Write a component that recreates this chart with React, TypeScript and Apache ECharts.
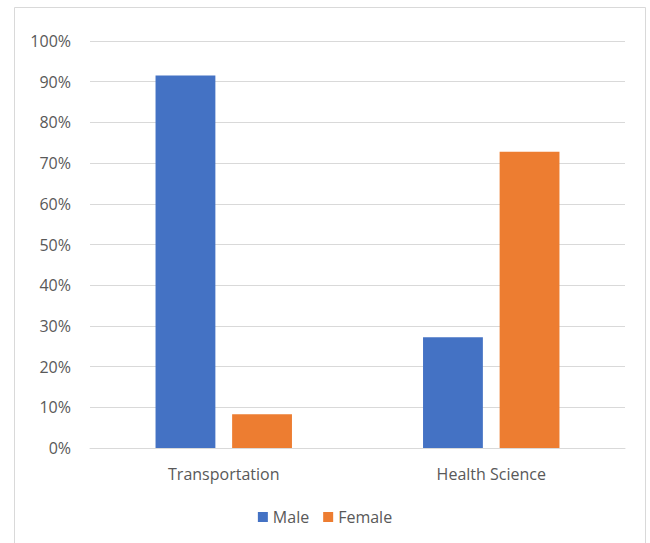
import React, { useEffect, useRef } from "react";
import * as echarts from "echarts";

const categories = ["Transportation", "Health Science"];
const maleValues = [91.5, 27.2];
const femaleValues = [8.3, 72.8];
const seriesNames = ["Male", "Female"];

export default function App() {
  const ref = useRef<HTMLDivElement>(null);
  useEffect(() => {
    if (!ref.current) return;
    const chart = echarts.init(ref.current, null, { renderer: "svg" });
    const font = "'Open Sans', 'Noto Sans', sans-serif";
    chart.setOption({
      animation: false,
      backgroundColor: "#ffffff",
      graphic: [
        {
          type: "rect",
          shape: { x: 14.5, y: 7.5, width: 631, height: 540 },
          style: { fill: "none", stroke: "#D9D9D9", lineWidth: 1 },
          silent: true,
        },
      ],
      grid: { left: 90, right: 25, top: 41, bottom: 95, containLabel: false },
      legend: {
        data: seriesNames,
        bottom: 13,
        left: "center",
        itemWidth: 10,
        itemHeight: 10,
        itemGap: 14,
        icon: "rect",
        textStyle: { color: "#595959", fontSize: 16, fontFamily: font },
      },
      xAxis: {
        type: "category",
        data: categories,
        axisLine: { show: true, lineStyle: { color: "#D9D9D9", width: 1 } },
        axisTick: { show: false },
        axisLabel: { color: "#595959", fontSize: 16, fontFamily: font, margin: 18 },
      },
      yAxis: {
        type: "value",
        min: 0,
        max: 100,
        interval: 10,
        axisLine: { show: false },
        axisTick: { show: false },
        splitLine: { lineStyle: { color: "#D9D9D9", width: 1 } },
        axisLabel: {
          color: "#595959",
          fontSize: 16,
          fontFamily: font,
          margin: 19,
          formatter: (v: number) => `${v}%`,
        },
      },
      series: [
        {
          name: seriesNames[0],
          type: "bar",
          data: maleValues,
          itemStyle: { color: "#4472C4" },
          barGap: "28%",
          barCategoryGap: "49%",
        },
        {
          name: seriesNames[1],
          type: "bar",
          data: femaleValues,
          itemStyle: { color: "#ED7D31" },
          barGap: "28%",
          barCategoryGap: "49%",
        },
      ],
    });
    return () => chart.dispose();
  }, []);
  return (
    <div
      ref={ref}
      style={{ position: "absolute", left: 0, top: 0, width: 650, height: 543 }}
    />
  );
}
